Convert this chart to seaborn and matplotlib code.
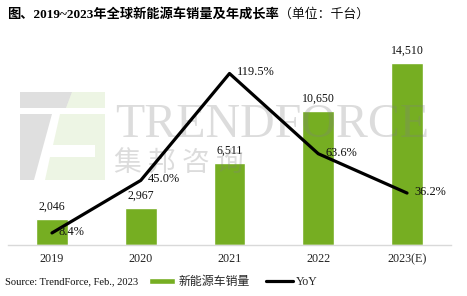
import numpy as np
import pandas as pd
import matplotlib
matplotlib.use("Agg")
import matplotlib.pyplot as plt
import matplotlib.transforms as mtransforms
from matplotlib.patches import Polygon
import seaborn as sns

# ---- data ----
years = ["2019", "2020", "2021", "2022", "2023(E)"]
sales = [2046, 2967, 6511, 10650, 14510]
sales_labels = ["2,046", "2,967", "6,511", "10,650", "14,510"]
yoy = [8.4, 45.0, 119.5, 63.6, 36.2]
yoy_labels = ["8.4%", "45.0%", "119.5%", "63.6%", "36.2%"]
title_bold = "图、2019~2023年全球新能源车销量及年成长率"
title_unit = "（单位：千台）"
source_text = "Source: TrendForce, Feb., 2023"
legend_labels = ["新能源车销量", "YoY"]

GREEN = "#76AE22"
FAM = ["Liberation Serif", "Noto Sans CJK SC", "DejaVu Sans"]

sns.set_style("white")
plt.rcParams["font.family"] = FAM

W, H = 467, 296
fig = plt.figure(figsize=(W / 100, H / 100), dpi=100)
px = mtransforms.Affine2D().scale(1 / W, -1 / H).translate(0, 1) + fig.transFigure

ax = fig.add_axes([7.6 / W, 1 - 245 / H, (451.4 - 7.6) / W, (245 - 30) / H])
df = pd.DataFrame({"year": years, "sales": sales})
sns.barplot(data=df, x="year", y="sales", color=GREEN, saturation=1,
            width=0.36, ax=ax, zorder=2)
ax.set_ylim(0, 17143)
ax.set_yticks([])
ax.set_xlabel("")
ax.set_ylabel("")
for s in ["top", "left", "right"]:
    ax.spines[s].set_visible(False)
ax.spines["bottom"].set_color("#d9d9d9")
ax.spines["bottom"].set_linewidth(1.0)
ax.tick_params(axis="x", length=0, pad=6, labelsize=8.7, colors="#222222")
ax.bar_label(ax.containers[0], labels=sales_labels, padding=4.5,
             fontsize=8.6, color="#111111")

# ---- watermark (over bars, under line) ----
wm_gray = (0.5, 0.5, 0.5, 0.27)
ax.text(115, 137, "TRENDFORCE", transform=px, fontsize=34.5, color=wm_gray,
        family="Liberation Serif", va="baseline", ha="left", zorder=5)
ax.text(114, 171, "集 邦 咨 询", transform=px, fontsize=20, color=wm_gray,
        family="Noto Sans CJK SC", va="baseline", ha="left", zorder=5)
logo_gray = [
    [(20, 92), (72, 92), (66, 108), (20, 108)],
    [(20, 114), (52, 114), (34, 180), (20, 180)],
]
logo_green = [
    [(72, 92), (105, 92), (105, 108), (66, 108)],
    [(60, 114), (105, 114), (105, 145), (53, 145)],
    [(95, 145), (105, 145), (105, 157), (95, 157)],
    [(50, 157), (105, 157), (105, 180), (45, 180)],
]
for poly in logo_gray:
    ax.add_patch(Polygon(poly, closed=True, transform=px,
                         facecolor=(0.5, 0.5, 0.5, 0.25),
                         edgecolor="none", zorder=5, clip_on=False))
for poly in logo_green:
    ax.add_patch(Polygon(poly, closed=True, transform=px,
                         facecolor=(0.55, 0.75, 0.3, 0.15),
                         edgecolor="none", zorder=5, clip_on=False))

# ---- YoY line ----
ax2 = ax.twinx()
sns.lineplot(x=np.arange(len(years)), y=yoy, ax=ax2, color="black",
             linewidth=2.3, sort=False)
ax2.set_ylim(0, 149.8)
ax2.set_yticks([])
ax2.set_ylabel("")
for s in ax2.spines.values():
    s.set_visible(False)
for i, (v, lab) in enumerate(zip(yoy, yoy_labels)):
    ax2.annotate(lab, xy=(i, v), xytext=(7, 1), textcoords="offset pixels",
                 ha="left", va="center", fontsize=8.9, color="#111111")
ax.set_xlim(-0.5, len(years) - 0.5)

# ---- title ----
t1 = fig.text(7 / W, 1 - 14.5 / H, title_bold, fontsize=9.5, fontweight="bold",
              va="center", ha="left", color="black")
fig.canvas.draw()
ax.annotate(title_unit, xy=(1, 0.5), xycoords=t1, xytext=(0, 0),
            textcoords="offset pixels", fontsize=9.3, va="center", ha="left",
            color="#111111", annotation_clip=False)

# ---- footer ----
fig.text(5 / W, 1 - 282 / H, source_text, fontsize=7.6, va="center", ha="left",
         color="#111111")
fig.legend(handles=[ax.patches[0], ax2.lines[0]], labels=legend_labels,
           loc="center left", bbox_to_anchor=(149 / W, 1 - 282 / H),
           ncol=2, frameon=False, fontsize=8.6, handlelength=2.2,
           handleheight=0.45, handletextpad=0.25, columnspacing=1.4,
           borderpad=0, borderaxespad=0)

fig.savefig("out.png", dpi=100)
